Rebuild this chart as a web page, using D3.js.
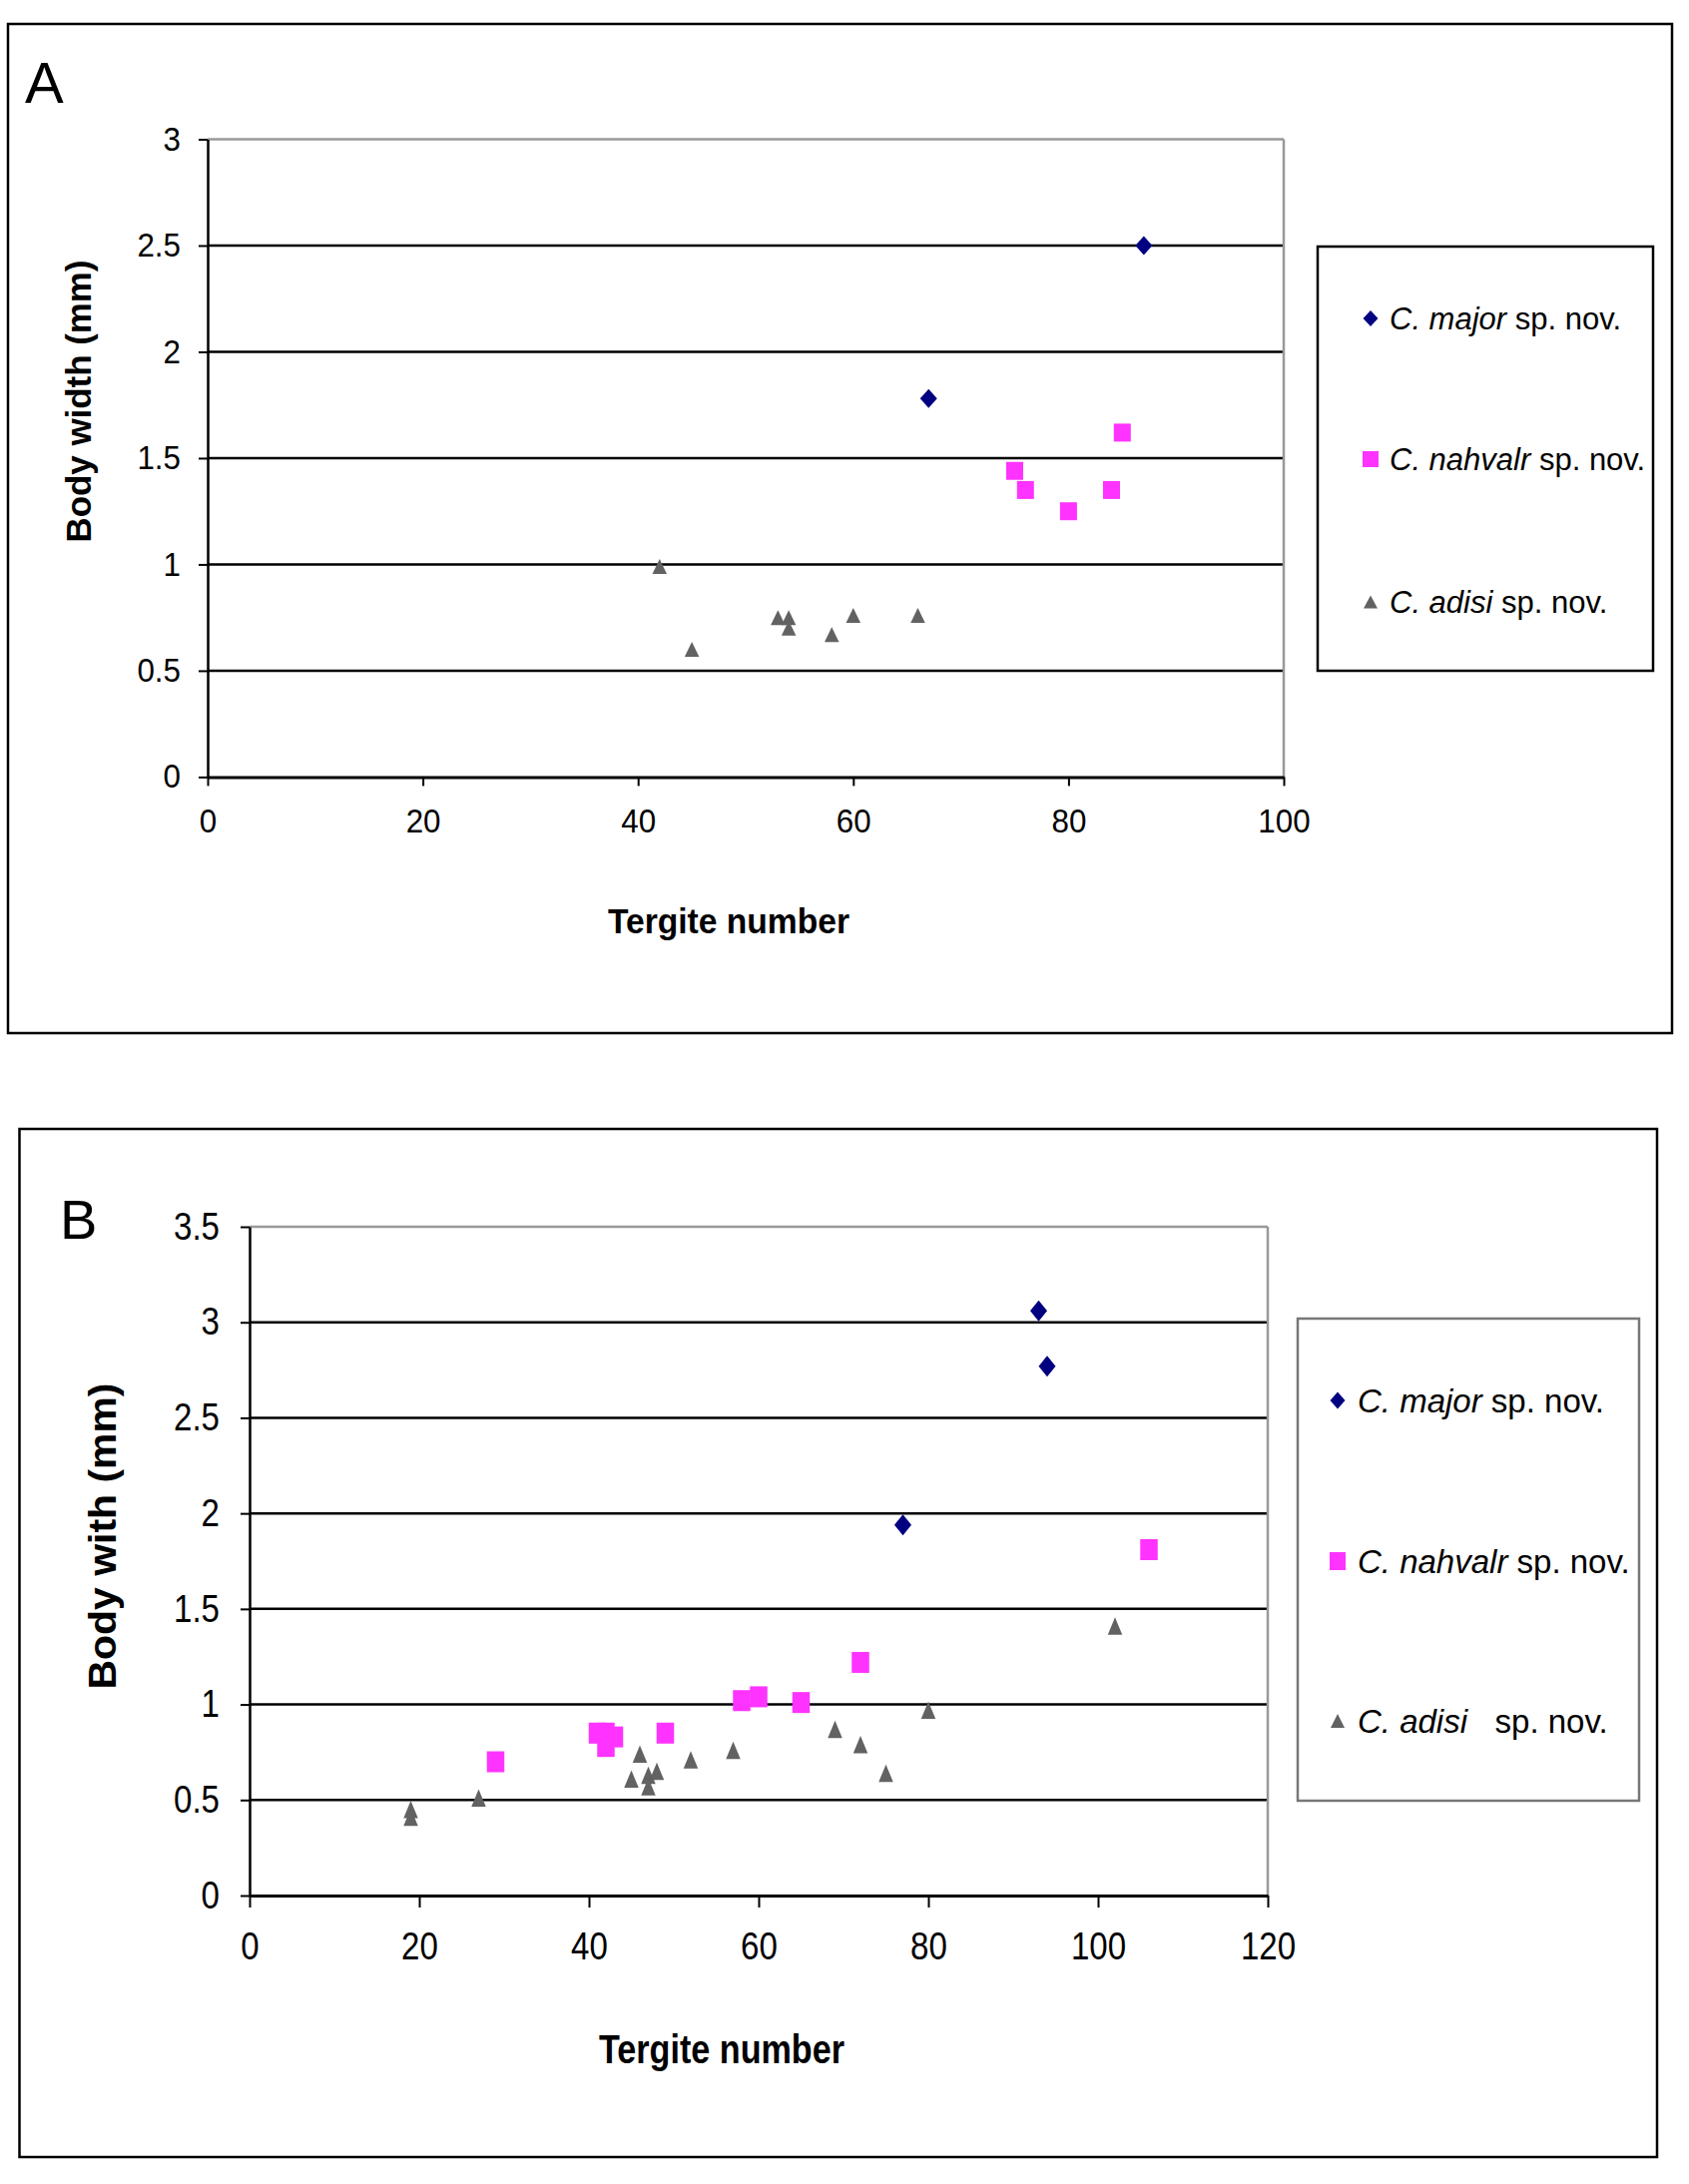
<!DOCTYPE html>
<html><head><meta charset="utf-8">
<script src="https://cdn.jsdelivr.net/npm/d3@7"></script>
<style>body{margin:0;background:#fff} svg{display:block}</style>
</head><body>
<svg id="c" width="1692" height="2188"></svg>
<script>
// ---------- DATA ----------
const legendItalic = ["C. major", "C. nahvalr", "C. adisi"];
const legendSuffixA = [" sp. nov.", " sp. nov.", " sp. nov."];
const legendSuffixB = [" sp. nov.", " sp. nov.", "   sp. nov."];
const seriesColors = ["#000080", "#ff33ff", "#626262"];

// Panel A
const majorA_x = [87, 67];
const majorA_y = [2.5, 1.78];
const nahvalrA_x = [85, 75, 76, 80, 84];
const nahvalrA_y = [1.62, 1.44, 1.35, 1.25, 1.35];
const adisiA_x = [42, 45, 53, 54, 54, 58, 60, 66];
const adisiA_y = [0.99, 0.6, 0.75, 0.75, 0.7, 0.67, 0.76, 0.76];
const xTicksA = [0, 20, 40, 60, 80, 100];
const yTicksA = [0, 0.5, 1, 1.5, 2, 2.5, 3];

// Panel B
const majorB_x = [93, 94, 77];
const majorB_y = [3.06, 2.77, 1.94];
const nahvalrB_x = [29, 41, 42, 42, 43, 49, 58, 60, 65, 72, 106];
const nahvalrB_y = [0.70, 0.85, 0.85, 0.78, 0.83, 0.85, 1.02, 1.04, 1.01, 1.22, 1.81];
const adisiB_x = [19, 19, 27, 45, 46, 47, 47, 48, 52, 57, 69, 72, 75, 80, 102];
const adisiB_y = [0.45, 0.41, 0.51, 0.61, 0.74, 0.63, 0.57, 0.65, 0.71, 0.76, 0.87, 0.79, 0.64, 0.97, 1.41];
const xTicksB = [0, 20, 40, 60, 80, 100, 120];
const yTicksB = [0, 0.5, 1, 1.5, 2, 2.5, 3, 3.5];

// ---------- DRAW ----------
const svg = d3.select("#c");
const FONT = "'Liberation Sans', Arial, sans-serif";

function shapePath(kind, w, h) {
  if (kind === 0) return `M0,${-h/2}L${w/2},0L0,${h/2}L${-w/2},0Z`;
  if (kind === 1) return `M${-w/2},${-h/2}h${w}v${h}h${-w}Z`;
  return `M0,${-h/2}L${w/2},${h/2}L${-w/2},${h/2}Z`;
}

function panel(cfg) {
  const g = svg.append("g");
  g.append("rect").attr("x", cfg.frame[0]).attr("y", cfg.frame[1])
    .attr("width", cfg.frame[2] - cfg.frame[0]).attr("height", cfg.frame[3] - cfg.frame[1])
    .attr("fill", "none").attr("stroke", "#000").attr("stroke-width", 2.5);
  g.append("text").attr("x", cfg.letterPos[0]).attr("y", cfg.letterPos[1])
    .attr("font-family", FONT).attr("font-size", cfg.letterSize).text(cfg.letter);

  const x = d3.scaleLinear().domain(cfg.xDomain).range([cfg.plot[0], cfg.plot[2]]);
  const y = d3.scaleLinear().domain(cfg.yDomain).range([cfg.plot[3], cfg.plot[1]]);

  const ymax = cfg.yDomain[1];
  g.append("g").selectAll("line").data(cfg.yTicks.filter(t => t > 0)).join("line")
    .attr("x1", cfg.plot[0]).attr("x2", cfg.plot[2])
    .attr("y1", d => y(d)).attr("y2", d => y(d))
    .attr("stroke", d => d === ymax ? "#999" : "#000")
    .attr("stroke-width", 2.5);
  g.append("line").attr("x1", cfg.plot[2]).attr("x2", cfg.plot[2])
    .attr("y1", cfg.plot[1]).attr("y2", cfg.plot[3])
    .attr("stroke", "#999").attr("stroke-width", 2.5);

  const ya = g.append("g").attr("transform", `translate(${cfg.plot[0]},0)`)
    .call(d3.axisLeft(y).tickValues(cfg.yTicks).tickSize(cfg.yTickLen).tickSizeOuter(0)
      .tickFormat(d3.format("~g")));
  ya.select(".domain").attr("stroke", "#000").attr("stroke-width", 2.5);
  ya.selectAll(".tick line").attr("stroke", "#000").attr("stroke-width", 2);
  ya.selectAll(".tick text").attr("font-family", FONT).attr("font-size", cfg.tickSize)
    .attr("fill", "#000").attr("x", -cfg.yLabelGap / cfg.tickScale)
    .attr("transform", `scale(${cfg.tickScale},1)`);

  const xa = g.append("g").attr("transform", `translate(0,${cfg.plot[3]})`)
    .call(d3.axisBottom(x).tickValues(cfg.xTicks).tickSize(cfg.xTickLen).tickSizeOuter(0)
      .tickFormat(d3.format("~g")));
  xa.select(".domain").attr("stroke", "#000").attr("stroke-width", 3);
  xa.selectAll(".tick line").attr("stroke", "#000").attr("stroke-width", 2);
  xa.selectAll(".tick text").attr("font-family", FONT).attr("font-size", cfg.tickSize)
    .attr("fill", "#000").attr("y", cfg.xLabelBase).attr("dy", null)
    .attr("transform", `scale(${cfg.tickScale},1)`);

  g.append("text").attr("x", cfg.xTitle[0]).attr("y", cfg.xTitle[1])
    .attr("text-anchor", "middle").attr("font-family", FONT).attr("font-weight", "bold")
    .attr("font-size", cfg.xTitle[2]).attr("textLength", cfg.xTitle[3])
    .attr("lengthAdjust", "spacingAndGlyphs").text("Tergite number");
  g.append("text").attr("transform", `translate(${cfg.yTitle[0]},${cfg.yTitle[1]}) rotate(-90)`)
    .attr("text-anchor", "middle").attr("font-family", FONT).attr("font-weight", "bold")
    .attr("font-size", cfg.yTitle[2]).attr("textLength", cfg.yTitle[3])
    .attr("lengthAdjust", "spacingAndGlyphs").text(cfg.yTitleText);

  cfg.series.forEach((s, k) => {
    const pts = s.x.map((v, i) => ({x: v, y: s.y[i]}));
    g.append("g").selectAll("path").data(pts).join("path")
      .attr("transform", d => `translate(${x(d.x)},${y(d.y)})`)
      .attr("d", shapePath(k, cfg.marker[k][0], cfg.marker[k][1]))
      .attr("fill", seriesColors[k]);
  });

  const L = cfg.legend;
  g.append("rect").attr("x", L.box[0]).attr("y", L.box[1])
    .attr("width", L.box[2] - L.box[0]).attr("height", L.box[3] - L.box[1])
    .attr("fill", "#fff").attr("stroke", L.stroke).attr("stroke-width", 2.5);
  legendItalic.forEach((name, k) => {
    const cy = L.rows[k];
    g.append("path").attr("transform", `translate(${L.markerX},${cy})`)
      .attr("d", shapePath(k, L.msize[k][0], L.msize[k][1])).attr("fill", seriesColors[k]);
    const t = g.append("text").attr("x", L.textX).attr("y", cy + L.baseOff)
      .attr("font-family", FONT).attr("font-size", L.fontSize)
      .style("white-space", "pre");
    t.append("tspan").attr("font-style", "italic").text(name);
    t.append("tspan").text(L.suffix[k]);
  });
}

panel({
  frame: [8, 24, 1675, 1035],
  letter: "A", letterPos: [25, 103], letterSize: 58,
  plot: [208, 139.5, 1286, 778.4],
  xDomain: [0, 100], yDomain: [0, 3],
  xTicks: xTicksA, yTicks: yTicksA,
  yTickLen: 9, xTickLen: 9, tickSize: 33, tickScale: 0.95,
  yLabelGap: 27, xLabelBase: 56,
  xTitle: [730, 935, 35, 242],
  yTitle: [91, 402, 35, 283], yTitleText: "Body width (mm)",
  marker: [[17, 19], [17, 18], [14.5, 15]],
  series: [{x: majorA_x, y: majorA_y}, {x: nahvalrA_x, y: nahvalrA_y}, {x: adisiA_x, y: adisiA_y}],
  legend: {box: [1320, 247, 1656, 672], stroke: "#000", rows: [319, 460, 603],
    markerX: 1373, textX: 1392, fontSize: 31, baseOff: 11, suffix: legendSuffixA,
    msize: [[15, 16], [16, 16], [14, 13]]}
});

panel({
  frame: [19.5, 1131, 1660, 2161],
  letter: "B", letterPos: [60, 1241], letterSize: 56,
  plot: [250, 1229, 1270, 1899],
  xDomain: [0, 120], yDomain: [0, 3.5],
  xTicks: xTicksB, yTicks: yTicksB,
  yTickLen: 9, xTickLen: 12, tickSize: 38, tickScale: 0.87,
  yLabelGap: 30, xLabelBase: 64,
  xTitle: [723, 2067, 41, 246],
  yTitle: [116, 1539, 38, 307], yTitleText: "Body with (mm)",
  marker: [[17, 21], [17.5, 21], [14.5, 17.5]],
  series: [{x: majorB_x, y: majorB_y}, {x: nahvalrB_x, y: nahvalrB_y}, {x: adisiB_x, y: adisiB_y}],
  legend: {box: [1300, 1321, 1642, 1804], stroke: "#777", rows: [1403, 1564, 1724],
    markerX: 1340, textX: 1360, fontSize: 33, baseOff: 12, suffix: legendSuffixB,
    msize: [[15, 17], [16, 18], [14, 14]]}
});
</script>
</body></html>
